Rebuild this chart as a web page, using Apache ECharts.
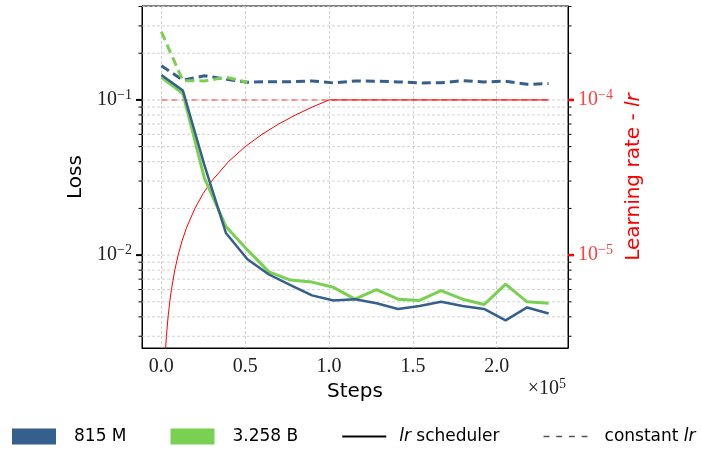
<!DOCTYPE html>
<html>
<head>
<meta charset="utf-8">
<script src="https://cdn.jsdelivr.net/npm/echarts@6/dist/echarts.min.js"></script>
<style>
html, body { margin: 0; padding: 0; background: #fff; }
#chart { width: 701px; height: 450px; }
</style>
</head>
<body>
<div id="chart"></div>
<script>
// training steps where the losses were evaluated
const steps = [0, 12830, 25660, 38490, 51320, 64150, 76980, 89810, 102640, 115470,
  128300, 141130, 153960, 166790, 179620, 192450, 205280, 218110, 230940];

// eval loss, lr scheduler (solid)
const loss815Sched = [0.145, 0.115, 0.038, 0.0139, 0.0094, 0.0075, 0.0064, 0.0055, 0.0051, 0.0052,
  0.0049, 0.0045, 0.0047, 0.0050, 0.0047, 0.0045, 0.0038, 0.0046, 0.0042];
const loss3bSched = [0.140, 0.110, 0.0313, 0.0153, 0.0108, 0.0078, 0.0069, 0.0067, 0.0062, 0.0052,
  0.0060, 0.0052, 0.0051, 0.0059, 0.0052, 0.0048, 0.0065, 0.0050, 0.0049];

// eval loss, constant lr (dashed)
const loss815Const = [0.166, 0.134, 0.143, 0.136, 0.130, 0.131, 0.131, 0.1326, 0.1287, 0.1326,
  0.132, 0.1307, 0.1287, 0.129, 0.133, 0.1307, 0.132, 0.126, 0.1274];
const loss3bConst = [0.275, 0.133, 0.1326, 0.140, 0.130];

// learning rate curves (right axis)
const lrSchedSteps = [2000, 3000, 4000, 5000, 6000, 8000, 10000, 12500, 15000, 20000, 25000,
  30000, 40000, 50000, 60000, 70000, 80000, 90000, 100000, 230940];
const lrSched = [2e-6, 3e-6, 4e-6, 5e-6, 6e-6, 8e-6, 1e-5, 1.25e-5, 1.5e-5, 2e-5, 2.5e-5,
  3e-5, 4e-5, 5e-5, 6e-5, 7e-5, 8e-5, 9e-5, 1e-4, 1e-4];
const lrConstSteps = [0, 230940];
const lrConst = [1e-4, 1e-4];

// axis ticks
const xTicks = [0, 50000, 100000, 150000, 200000];
const lossMajor = [0.01, 0.1];
const lossMinor = [0.003, 0.004, 0.005, 0.006, 0.007, 0.008, 0.009,
  0.02, 0.03, 0.04, 0.05, 0.06, 0.07, 0.08, 0.09, 0.2, 0.3, 0.4];

const X_MIN = -11550, X_MAX = 242500;
const Y_MIN = 0.00252, Y_MAX = 0.403;

const BLUE = '#355f8d', GREEN = '#7ad151';
const SERIF = 'Liberation Serif';
const SANS = 'DejaVu Sans';

const zip = (xs, ys) => ys.map((y, i) => [xs[i], y]);

function powLabel(v) {
  const e = Math.log10(v);
  if (Math.abs(e - Math.round(e)) > 1e-6) return '';
  return '{b|10}{s|\u2212' + (-Math.round(e)) + '}';
}
const powRich = {
  b: { fontFamily: SERIF, fontSize: 20 },
  s: { fontFamily: SERIF, fontSize: 14, padding: [0, 0, 10, 0] }
};

// dotted grid + small ticks on both y sides
function gridItem(params, api) {
  const v = api.value(1);
  const major = api.value(2) === 1;
  const p0 = api.coord([X_MIN, v]);
  const p1 = api.coord([X_MAX, v]);
  return {
    type: 'group',
    children: [
      { type: 'line', shape: { x1: p0[0], y1: p0[1], x2: p1[0], y2: p1[1] },
        style: { stroke: '#c8c8c8', lineWidth: 0.8, lineDash: [3, 2] } },
      { type: 'line', shape: { x1: p0[0] - (major ? 6 : 3.5), y1: p0[1], x2: p0[0], y2: p0[1] },
        style: { stroke: '#000', lineWidth: major ? 2 : 1 } },
      { type: 'line', shape: { x1: p1[0], y1: p1[1], x2: p1[0] + (major ? 6 : 3.5), y2: p1[1] },
        style: { stroke: major ? '#ff0000' : '#000', lineWidth: major ? 2.5 : 1 } }
    ]
  };
}

const chart = echarts.init(document.getElementById('chart'));
chart.setOption({
  animation: false,
  backgroundColor: '#fff',
  grid: {
    left: 142, right: 133, top: 6, bottom: 102,
    show: true, borderColor: '#000', borderWidth: 1,
    containLabel: false, outerBoundsMode: 'none'
  },
  xAxis: {
    type: 'value', min: X_MIN, max: X_MAX,
    name: 'Steps', nameLocation: 'middle', nameGap: 34,
    nameTextStyle: { fontFamily: SANS, fontSize: 20, color: '#000' },
    axisLine: { onZero: false, lineStyle: { color: '#000', width: 1 } },
    axisTick: { show: false, customValues: xTicks },
    axisLabel: {
      customValues: xTicks, margin: 9,
      fontFamily: SERIF, fontSize: 20, color: '#222',
      formatter: v => (v / 1e5).toFixed(1)
    },
    splitLine: { show: true, lineStyle: { color: '#c8c8c8', width: 0.8, type: [3, 2] } }
  },
  yAxis: [
    {
      type: 'log', min: Y_MIN, max: Y_MAX, position: 'left',
      name: 'Loss', nameLocation: 'middle', nameGap: 55, nameRotate: 90,
      nameTextStyle: { fontFamily: SANS, fontSize: 20, color: '#000' },
      axisLine: { show: true, onZero: false, lineStyle: { color: '#000', width: 1 } },
      axisTick: { show: false },
      splitLine: { show: false },
      axisLabel: {
        showMinLabel: false, showMaxLabel: false, margin: 10, color: '#222',
        formatter: powLabel, rich: powRich
      }
    },
    {
      type: 'log', min: Y_MIN / 1000, max: Y_MAX / 1000, position: 'right',
      name: 'Learning rate - {i|lr}', nameLocation: 'middle', nameGap: 52, nameRotate: 90,
      nameTextStyle: {
        fontFamily: SANS, fontSize: 20, color: '#ff0000',
        rich: { i: { fontFamily: SANS, fontSize: 20, fontStyle: 'italic', color: '#ff0000' } }
      },
      axisLine: { show: true, onZero: false, lineStyle: { color: '#000', width: 1 } },
      axisTick: { show: false },
      splitLine: { show: false },
      axisLabel: {
        showMinLabel: false, showMaxLabel: false, margin: 10, color: '#ff0000',
        formatter: powLabel,
        rich: {
          b: { fontFamily: SERIF, fontSize: 20, color: '#ff4040' },
          s: { fontFamily: SERIF, fontSize: 14, padding: [0, 0, 10, 0], color: '#ff4040' }
        }
      }
    }
  ],
  legend: {
    left: 12, top: 428, width: 690, padding: 0,
    itemWidth: 44, itemHeight: 16, itemGap: 44,
    selectedMode: false,
    textStyle: {
      fontFamily: SANS, fontSize: 17, color: '#000', padding: [0, 0, 0, 13],
      rich: { i: { fontFamily: SANS, fontSize: 17, fontStyle: 'italic', color: '#000' } }
    },
    formatter: n => n === 'lr scheduler' ? '{i|lr} scheduler'
      : n === 'constant lr' ? 'constant {i|lr}' : n,
    data: [
      { name: '815 M', icon: 'rect' },
      { name: '3.258 B', icon: 'rect' },
      { name: 'lr scheduler', icon: 'path://M0,0 L45,0 L45,2 L0,2 Z',
        textStyle: { padding: [0, 0, 0, 8] } },
      { name: 'constant lr', icon: 'path://M0,0h5v1.2h-5z M10.7,0h5v1.2h-5z M21.4,0h5v1.2h-5z M32.1,0h5v1.2h-5z',
        textStyle: { padding: [0, 0, 0, 12] } }
    ]
  },
  graphic: [{
    type: 'text', right: 135, top: 377,
    style: {
      text: '{b|\u00d710}{s|5}', fill: '#222',
      rich: {
        b: { fontFamily: SERIF, fontSize: 20 },
        s: { fontFamily: SERIF, fontSize: 14, padding: [0, 0, 10, 0] }
      }
    }
  }],
  series: [
    {
      type: 'custom', name: 'grid', z: 1, silent: true, clip: false,
      renderItem: gridItem,
      data: lossMajor.map(v => [0, v, 1]).concat(lossMinor.map(v => [0, v, 0]))
    },
    {
      type: 'line', name: 'lr const', yAxisIndex: 1, symbol: 'none', z: 3,
      data: zip(lrConstSteps, lrConst),
      lineStyle: { color: 'rgba(255,0,0,0.5)', width: 1.5, type: [6, 4] }
    },
    {
      type: 'line', name: 'lr sched', yAxisIndex: 1, symbol: 'none', z: 3,
      data: zip(lrSchedSteps, lrSched),
      lineStyle: { color: '#ff0000', width: 1 }
    },
    {
      type: 'line', name: '815 M const', symbol: 'none', z: 4, color: BLUE,
      data: zip(steps, loss815Const),
      lineStyle: { color: BLUE, width: 3, type: [9, 5] }
    },
    {
      type: 'line', name: '3.258 B const', symbol: 'none', z: 4, color: GREEN,
      data: zip(steps, loss3bConst),
      lineStyle: { color: GREEN, width: 3, type: [9, 5] }
    },
    {
      type: 'line', name: '3.258 B', symbol: 'none', z: 5, color: GREEN,
      data: zip(steps, loss3bSched),
      lineStyle: { color: GREEN, width: 3 }
    },
    {
      type: 'line', name: '815 M', symbol: 'none', z: 6, color: BLUE,
      data: zip(steps, loss815Sched),
      lineStyle: { color: BLUE, width: 2.5 }
    },
    {
      type: 'line', name: 'lr scheduler', symbol: 'none', color: '#000',
      data: [], lineStyle: { color: '#000', width: 2 }
    },
    {
      type: 'line', name: 'constant lr', symbol: 'none', color: '#555',
      data: [], lineStyle: { color: '#555', width: 1, type: [5, 5] }
    }
  ]
});
window.addEventListener('resize', () => chart.resize());
</script>
</body>
</html>
